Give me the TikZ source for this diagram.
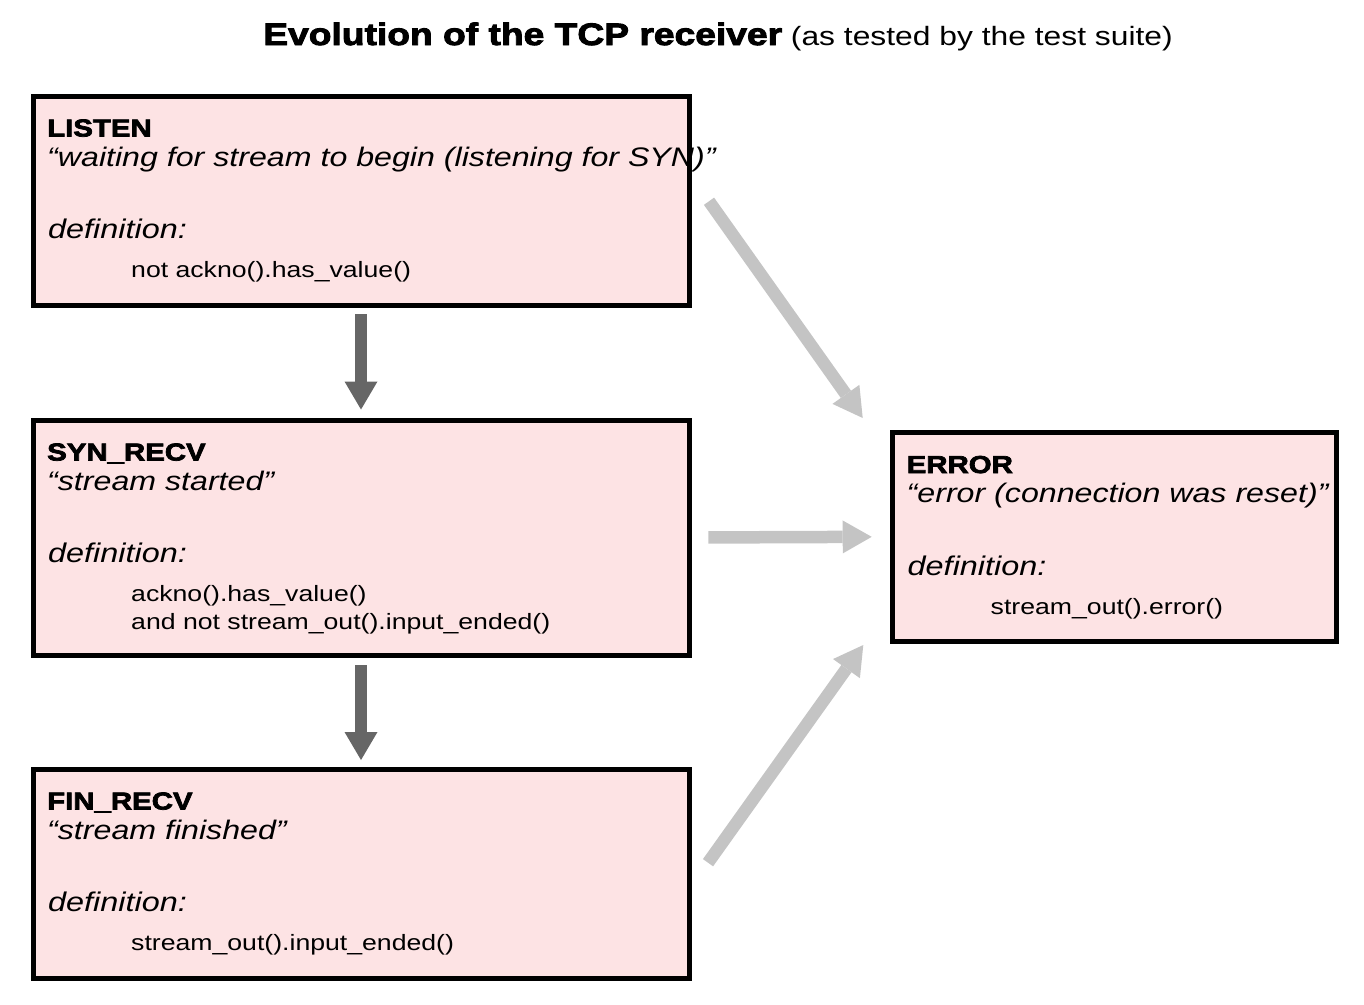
\documentclass[tikz,border=0pt]{standalone}
\usepackage{fontspec}
\setmainfont[FakeStretch=1.2]{Liberation Sans}
\newfontfamily\heavyfont[FakeStretch=1.2,FakeBold=3]{Liberation Sans Bold}
\usetikzlibrary{arrows.meta,positioning,calc}

\definecolor{statepink}{RGB}{253,227,228}
\definecolor{stepgray}{RGB}{102,102,102}
\definecolor{errgray}{RGB}{196,196,196}

\newcommand{\stname}[1]{{\heavyfont\fontsize{24.5}{29}\selectfont #1}}
\newcommand{\stquote}[1]{{\itshape\fontsize{26.8}{32}\selectfont #1}}
\newcommand{\stdef}[1]{{\itshape\fontsize{27}{32}\selectfont #1}}
\newcommand{\stcode}[1]{{\fontsize{22.2}{28}\selectfont #1}}

\begin{document}
\begin{tikzpicture}[x=1pt,y=-1pt,
    statebox/.style={draw=black, line width=5pt, fill=statepink, inner sep=0pt, outer sep=0pt},
    txt/.style={anchor=base west, inner sep=0pt},
    steparrow/.style={draw=stepgray, line width=12.5pt, -{Triangle[length=28pt,width=33pt,line width=0pt]}},
    errarrow/.style={draw=errgray, line width=12.5pt, -{Triangle[length=29pt,width=33pt,line width=0pt]}}]
    % Fix the page size
    \useasboundingbox (0,0) rectangle (1364,1004);

    % Title
    \node[anchor=base, inner sep=0pt] (title) at (718,45) {{\heavyfont\fontsize{31}{37}\selectfont Evolution of the TCP receiver}{\fontsize{26.5}{32}\selectfont\ (as tested by the test suite)}};

    % The four states
    \node[statebox, minimum width=656pt, minimum height=209.5pt] (listen) at (361,200.75) {};
    \node[statebox, minimum width=656pt, minimum height=235pt] (syn) at (361,537.5) {};
    \node[statebox, minimum width=656pt, minimum height=209pt] (fin) at (361,873.5) {};
    \node[statebox, minimum width=443.5pt, minimum height=208.5pt] (error) at (1114.25,536.75) {};

    % LISTEN
    \node[txt] (listen-name) at ($(listen.north west)+(14,40.5)$) {\stname{LISTEN}};
    \node[txt] (listen-quote) at ($(listen.north west)+(14,70)$) {\stquote{“waiting for stream to begin (listening for SYN)”}};
    \node[txt] (listen-def) at ($(listen.north west)+(15,142.5)$) {\stdef{definition:}};
    \node[txt] (listen-code) at ($(listen.north west)+(98,181.5)$) {\stcode{not ackno().has\_value()}};

    % SYN_RECV
    \node[txt] (syn-name) at ($(syn.north west)+(14,40.5)$) {\stname{SYN\_RECV}};
    \node[txt] (syn-quote) at ($(syn.north west)+(14,70)$) {\stquote{“stream started”}};
    \node[txt] (syn-def) at ($(syn.north west)+(15,142.5)$) {\stdef{definition:}};
    \node[txt] (syn-code) at ($(syn.north west)+(98,181.5)$) {\stcode{ackno().has\_value()}};
    \node[txt] (syn-code2) at ($(syn.north west)+(98,209.5)$) {\stcode{and not stream\_out().input\_ended()}};

    % FIN_RECV
    \node[txt] (fin-name) at ($(fin.north west)+(14,40.5)$) {\stname{FIN\_RECV}};
    \node[txt] (fin-quote) at ($(fin.north west)+(14,70)$) {\stquote{“stream finished”}};
    \node[txt] (fin-def) at ($(fin.north west)+(15,142.5)$) {\stdef{definition:}};
    \node[txt] (fin-code) at ($(fin.north west)+(98,181.5)$) {\stcode{stream\_out().input\_ended()}};

    % ERROR
    \node[txt] (error-name) at ($(error.north west)+(14,40.5)$) {\stname{ERROR}};
    \node[txt] (error-quote) at ($(error.north west)+(14,70)$) {\stquote{“error (connection was reset)”}};
    \node[txt] (error-def) at ($(error.north west)+(15,142.5)$) {\stdef{definition:}};
    \node[txt] (error-code) at ($(error.north west)+(98,181.5)$) {\stcode{stream\_out().error()}};

    % normal evolution
    \draw[steparrow, shorten <=8.5pt, shorten >=10.5pt] (listen.south) -- (syn.north);
    \draw[steparrow, shorten <=10pt, shorten >=9pt] (syn.south) -- (fin.north);

    % any state can be reset
    \coordinate (listen-out) at ($(listen.east)+(20,0.5)$);
    \coordinate (error-in1) at ($(error.north west)+(-29.8,-14.5)$);
    \coordinate (fin-out) at ($(fin.east)+(19,-10.8)$);
    \coordinate (error-in3) at ($(error.south west)+(-29.2,4)$);
    \draw[errarrow] (listen-out) -- (error-in1);
    \draw[errarrow, shorten <=19.3pt, shorten >=20.8pt] (syn.east) -- (error.west);
    \draw[errarrow] (fin-out) -- (error-in3);
\end{tikzpicture}
\end{document}
